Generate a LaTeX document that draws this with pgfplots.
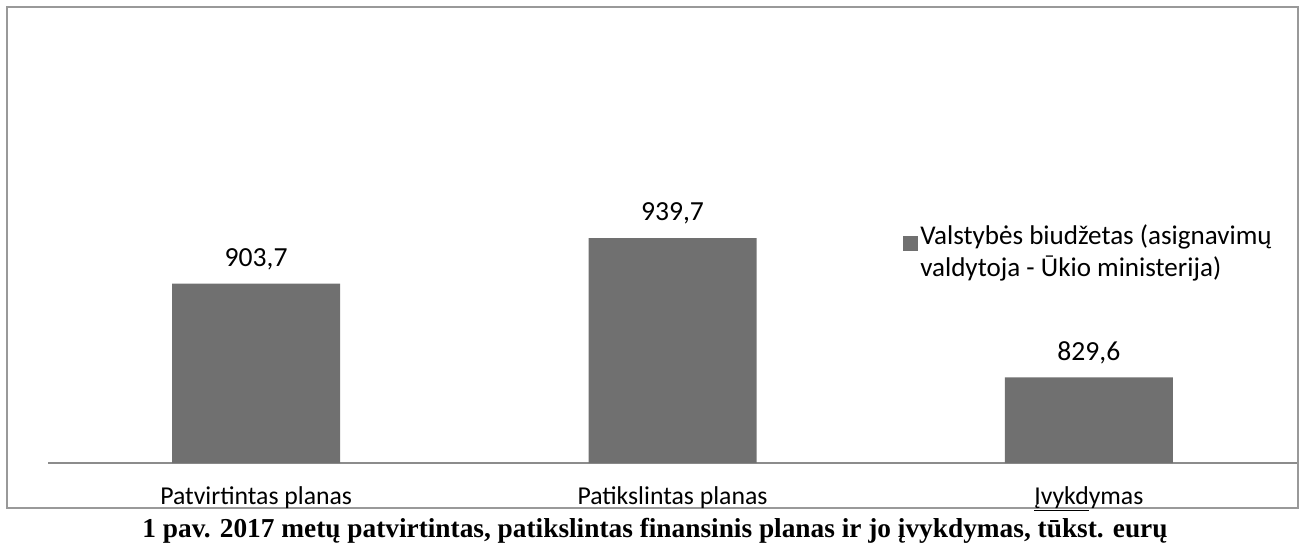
\documentclass[border=0pt]{standalone}
\usepackage{pgfplots}
\pgfplotsset{compat=1.18}
\usepackage{fontspec}
\setmainfont{Carlito}
\newfontfamily\capfont{Liberation Serif}
\definecolor{barc}{RGB}{112,112,112}
\begin{document}
\begin{tikzpicture}[x=0.75pt,y=0.75pt]
\path[use as bounding box] (0,0) rectangle (1303,544);
\draw[black!40, line width=0.9pt] (7,36) rectangle (1298,537);
\begin{axis}[
  at={(36pt,60.75pt)}, anchor=south west,
  scale only axis, width=936.75pt, height=339.75pt,
  xmin=-0.5, xmax=2.5, ymin=762, ymax=1120,
  axis x line*=bottom, axis y line=none,
  x axis line style={black!45, line width=0.9pt, -},
  ytick=\empty,
  xtick={0,1,2},
  xticklabels={Patvirtintas planas, Patikslintas planas, \underline{Įvykd}ymas},
  major tick length=0pt,
  xticklabel style={font=\fontsize{19.3}{23}\selectfont, anchor=base, yshift=-30.75pt},
  nodes near coords,
  point meta=y,
  nodes near coords style={font=\fontsize{20.7}{24}\selectfont, anchor=base, yshift=13pt,
    /pgf/number format/.cd, fixed, fixed zerofill, precision=1, use comma, assume math mode=true},
  legend style={at={(axis description cs:0.684,0.532)}, anchor=north west, draw=none, fill=none,
    font=\fontsize{20.3}{24}\selectfont, cells={align=left, anchor=west}, inner sep=0pt},
  legend image code/.code={\path[draw=none,fill=none] (0pt,-24pt) rectangle (0.1pt,11.25pt);\fill[barc,draw=none] (0pt,0.5pt) rectangle (11.25pt,11.75pt);},
]
\addplot[ybar, fill=barc, draw=none, bar width=126pt] coordinates {(0,903.7) (1,939.7) (2,829.6)};
\addlegendentry{Valstybės biudžetas (asignavimų\\valdytoja - Ūkio ministerija)}
\end{axis}
\node[anchor=base, font=\capfont\bfseries\fontsize{20.5}{24}\selectfont] at (655,7) {1 pav. 2017 metų patvirtintas, patikslintas finansinis planas ir jo įvykdymas, tūkst. eurų};
\end{tikzpicture}
\end{document}
